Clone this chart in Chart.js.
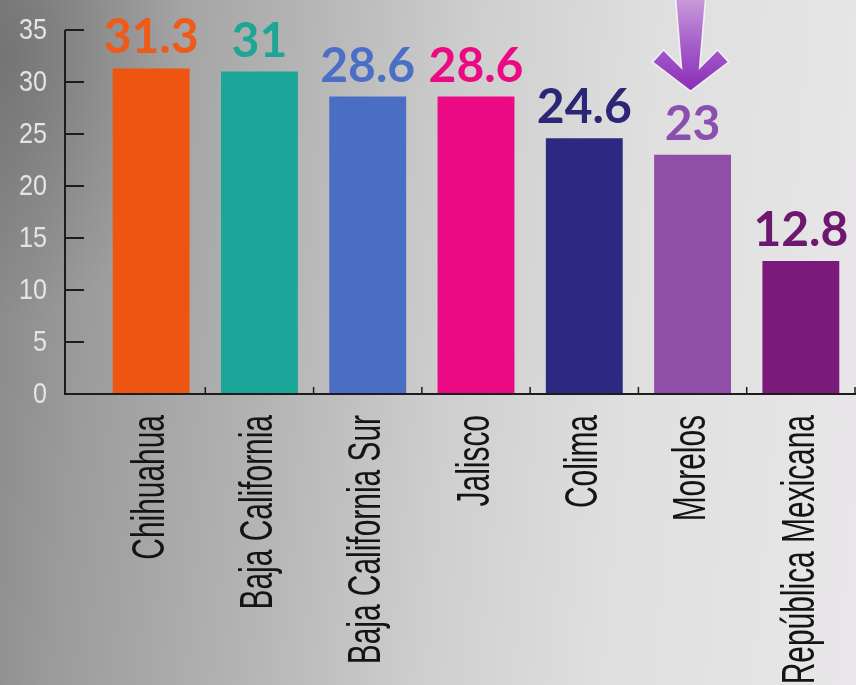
<!DOCTYPE html>
<html>
<head>
<meta charset="utf-8">
<script src="https://cdn.jsdelivr.net/npm/chart.js@4"></script>
<style>
  html, body {
    margin: 0;
    padding: 0;
  }
  body {
    width: 856px;
    height: 685px;
    overflow: hidden;
    background:
      radial-gradient(ellipse 180px 260px at 10px 60px, rgba(70,70,70,0.3), rgba(70,70,70,0) 100%),
      linear-gradient(95deg, #878787 0%, #9b9b9b 12%, #b4b4b4 33%, #cecece 52%, #dfdfdf 72%, #e9e7e9 100%);
  }
  #wrap {
    position: relative;
    width: 856px;
    height: 685px;
  }
</style>
</head>
<body>
<div id="wrap"><canvas id="chart" width="856" height="685"></canvas></div>
<script>
const estados = [
  "Chihuahua",
  "Baja California",
  "Baja California Sur",
  "Jalisco",
  "Colima",
  "Morelos",
  "República Mexicana",
];
const valores = [31.3, 31, 28.6, 28.6, 24.6, 23, 12.8];
const coloresBarra = ["#ee5510", "#1aa79a", "#4a6ec4", "#ec0a84", "#2c2a80", "#8f4ea8", "#7a1a7a"];
const coloresTexto = ["#f05a18", "#1ea596", "#4b6fc6", "#ec0a84", "#2b2676", "#8a4fb0", "#6e176e"];
const marcasY = [0, 5, 10, 15, 20, 25, 30, 35];

// axis lines, inward ticks, category labels, value labels and the arrow over Morelos
const decoPlugin = {
  id: "deco",
  afterDatasetsDraw(chart) {
    const ctx = chart.ctx;
    const y = chart.scales.y;
    const x = chart.scales.x;
    const area = chart.chartArea;
    const axisX = area.left - 32;
    const base = y.getPixelForValue(0);

    ctx.save();
    ctx.strokeStyle = "#1c1c1c";
    ctx.lineWidth = 2;

    // axis lines
    ctx.beginPath();
    ctx.moveTo(axisX, y.getPixelForValue(35));
    ctx.lineTo(axisX, base);
    ctx.lineTo(chart.width, base);
    ctx.stroke();

    marcasY.forEach((v) => {
      const py = y.getPixelForValue(v);
      ctx.beginPath();
      ctx.moveTo(axisX, py);
      ctx.lineTo(axisX + 19, py);
      ctx.stroke();
    });

    // small ticks between the categories
    ctx.lineWidth = 1.5;
    const step = x.getPixelForValue(1) - x.getPixelForValue(0);
    for (let i = 0; i < estados.length; i++) {
      const px = x.getPixelForValue(i) + step / 2;
      ctx.beginPath();
      ctx.moveTo(px, base);
      ctx.lineTo(px, base - 7);
      ctx.stroke();
    }

    // category labels, condensed, reading bottom to top
    ctx.fillStyle = "#141414";
    ctx.font = "46px 'Liberation Sans', Arial, sans-serif";
    ctx.textAlign = "right";
    ctx.textBaseline = "middle";
    estados.forEach((name, i) => {
      ctx.save();
      ctx.translate(x.getPixelForValue(i), base + 21);
      ctx.rotate(-Math.PI / 2);
      ctx.scale(0.65, 1);
      ctx.fillText(name, 0, 0);
      ctx.restore();
    });

    // y tick labels, condensed
    ctx.fillStyle = "#e4e4e4";
    ctx.font = "30px 'Liberation Sans', Arial, sans-serif";
    ctx.textAlign = "right";
    ctx.textBaseline = "middle";
    marcasY.forEach((v) => {
      ctx.save();
      ctx.translate(47, y.getPixelForValue(v) + 1);
      ctx.scale(0.84, 1);
      ctx.fillText(String(v), 0, 0);
      ctx.restore();
    });

    // value labels
    const meta = chart.getDatasetMeta(0);
    ctx.font = "bold 48px Lato, sans-serif";
    ctx.textAlign = "center";
    ctx.textBaseline = "alphabetic";
    meta.data.forEach((bar, i) => {
      ctx.fillStyle = coloresTexto[i];
      ctx.fillText(String(valores[i]), bar.x, bar.y - 15);
    });

    // arrow pointing at Morelos
    const m = meta.data[5];
    const cx = m.x - 2;
    const grad = ctx.createLinearGradient(0, 0, 0, 92);
    grad.addColorStop(0, "#c89ada");
    grad.addColorStop(0.5, "#a45cc8");
    grad.addColorStop(1, "#8a2cb8");
    ctx.fillStyle = grad;
    ctx.strokeStyle = "rgba(255,255,255,0.8)";
    ctx.lineWidth = 1.5;
    ctx.beginPath();
    ctx.moveTo(cx - 15, -2);
    ctx.lineTo(cx + 15, -2);
    ctx.lineTo(cx + 9, 68);
    ctx.lineTo(cx + 27, 50);
    ctx.lineTo(cx + 38, 62);
    ctx.lineTo(cx, 91);
    ctx.lineTo(cx - 38, 62);
    ctx.lineTo(cx - 27, 50);
    ctx.lineTo(cx - 9, 68);
    ctx.closePath();
    ctx.fill();
    ctx.stroke();

    ctx.restore();
  },
};

new Chart(document.getElementById("chart"), {
  type: "bar",
  data: {
    labels: estados,
    datasets: [
      {
        data: valores,
        backgroundColor: coloresBarra,
        borderWidth: 0,
        categoryPercentage: 1,
        barPercentage: 0.71,
      },
    ],
  },
  options: {
    responsive: false,
    animation: false,
    layout: {
      padding: { top: 30, right: 1, bottom: 0, left: 0 },
    },
    plugins: {
      legend: { display: false },
      tooltip: { enabled: false },
    },
    scales: {
      x: {
        grid: { display: false, drawTicks: false },
        border: { display: false },
        ticks: { display: false },
        afterFit(scale) {
          scale.height = 291;
        },
      },
      y: {
        min: 0,
        max: 35,
        grid: { display: false, drawTicks: false },
        border: { display: false },
        ticks: { display: false, stepSize: 5 },
        afterFit(scale) {
          scale.width = 97;
        },
      },
    },
  },
  plugins: [decoPlugin],
});
</script>
</body>
</html>
